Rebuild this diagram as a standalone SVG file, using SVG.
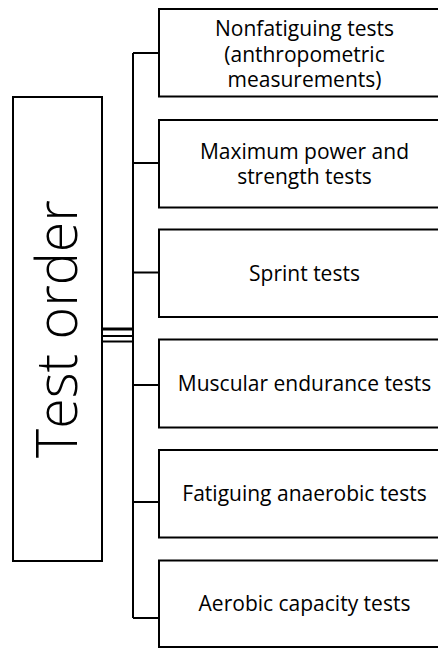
<svg xmlns="http://www.w3.org/2000/svg" width="438" height="648" viewBox="0 0 438 648">
<style>
.box{fill:#fff;stroke:#000;stroke-width:2}
.lbl{font-family:"Open Sans","Noto Sans",sans-serif;font-size:21px;fill:#000;text-anchor:middle}
.big{font-family:"Open Sans","Noto Sans",sans-serif;font-size:57px;font-weight:300;fill:#000;text-anchor:middle}
.ln{stroke:#000;stroke-width:2;fill:none}
</style>
<rect width="438" height="648" fill="#fff"/>
<g id="connectors">
<path class="ln" d="M133 53 V618 M133 53 H159 M133 163 H159 M133 272.5 H159 M133 385 H159 M133 502 H159 M133 618 H159"/>
<line x1="102" y1="329" x2="133" y2="329" stroke="#000" stroke-width="3"/>
<line x1="102" y1="336" x2="133" y2="336" stroke="#000" stroke-width="2"/>
<line x1="102" y1="341.5" x2="133" y2="341.5" stroke="#000" stroke-width="2"/>
</g>
<g id="test-order">
<rect class="box" x="13" y="97" width="89" height="464"/>
<text class="big" transform="translate(77,329) rotate(-90)" x="0" y="0" textLength="258" lengthAdjust="spacingAndGlyphs">Test order</text>
</g>
<g id="nonfatiguing">
<rect class="box" x="159" y="9" width="291" height="87.5"/>
<text class="lbl" x="304.5" y="36">Nonfatiguing tests</text>
<text class="lbl" x="304.5" y="61.5">(anthropometric</text>
<text class="lbl" x="304.5" y="87">measurements)</text>
</g>
<g id="maximum-power">
<rect class="box" x="159" y="120" width="291" height="87.5"/>
<text class="lbl" x="304.5" y="158.5">Maximum power and</text>
<text class="lbl" x="304.5" y="184">strength tests</text>
</g>
<g id="sprint">
<rect class="box" x="159" y="229.5" width="291" height="87.5"/>
<text class="lbl" x="304.5" y="280.5">Sprint tests</text>
</g>
<g id="muscular-endurance">
<rect class="box" x="159" y="339.5" width="291" height="88"/>
<text class="lbl" x="304.5" y="391">Muscular endurance tests</text>
</g>
<g id="fatiguing-anaerobic">
<rect class="box" x="159" y="450" width="291" height="87.5"/>
<text class="lbl" x="304.5" y="501">Fatiguing anaerobic tests</text>
</g>
<g id="aerobic-capacity">
<rect class="box" x="159" y="560.5" width="291" height="86.5"/>
<text class="lbl" x="304.5" y="611">Aerobic capacity tests</text>
</g>
</svg>
